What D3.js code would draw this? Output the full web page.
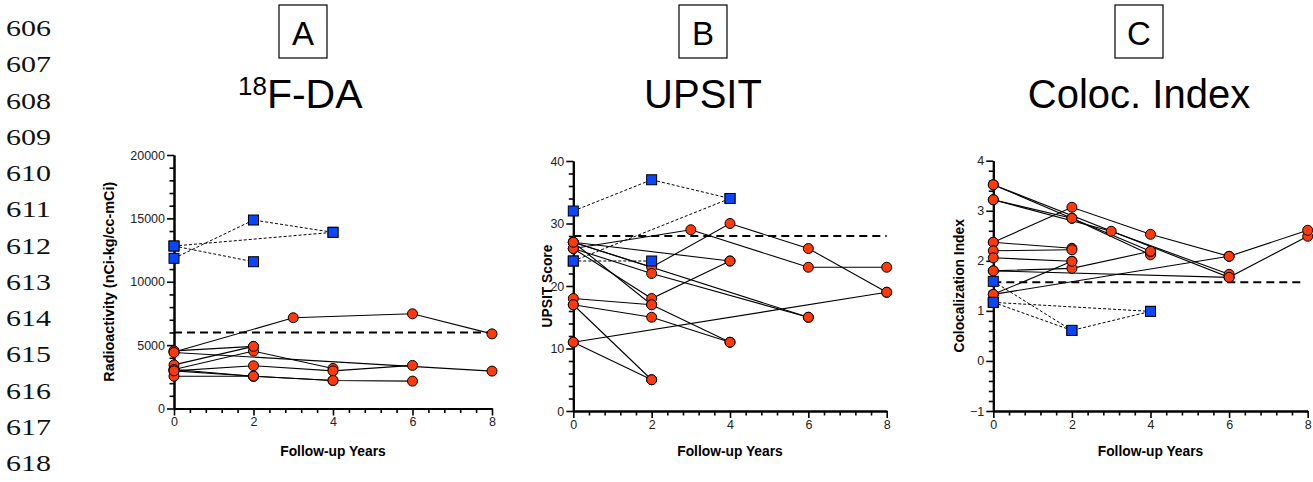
<!DOCTYPE html>
<html>
<head>
<meta charset="utf-8">
<script src="https://cdn.jsdelivr.net/npm/d3@7"></script>
<style>
  html, body { margin: 0; padding: 0; background: #fff; }
  svg { display: block; }
</style>
</head>
<body>
<script>
// ---------------- DATA ----------------
const lineNumbers = ["606","607","608","609","610","611","612","613","614","615","616","617","618"];
const panelLetters = ["A", "B", "C"];
const xTickLabels = [0, 2, 4, 6, 8];
const xLabel = "Follow-up Years";

// Panel A: 18F-DA radioactivity, each subject = list of [year, value]
const daRed = [
  [[0,4450],[3,7160],[6,7470],[8,5890]],
  [[0,4550],[2,4900]],
  [[0,3080],[2,4530],[4,3160]],
  [[0,4420],[8,2950]],
  [[0,2970],[2,3370],[4,2970],[6,3400]],
  [[0,3440],[2,4900]],
  [[0,2550],[2,2550],[4,2210]],
  [[0,3080],[2,2550],[4,2210],[6,2160]],
  [[0,2970],[2,2550]]
];
const daBlue = [
  [[0,12820],[2,11580]],
  [[0,12820],[4,13900]],
  [[0,11850],[2,14870],[4,13900]]
];
const daCutoff = 6000;
const daYTicks = [0, 5000, 10000, 15000, 20000];

// Panel B: UPSIT score
const upsitRed = [
  [[0,26],[3,29],[6,23],[8,23]],
  [[0,27],[2,23],[4,30],[6,26],[8,19]],
  [[0,27],[4,24]],
  [[0,26],[2,22],[6,15]],
  [[0,27],[6,15]],
  [[0,26],[2,18],[4,24]],
  [[0,27],[2,17],[4,11]],
  [[0,18],[2,17]],
  [[0,17],[2,15],[4,11]],
  [[0,17],[2,5]],
  [[0,11],[2,5]],
  [[0,11],[8,19]]
];
const upsitBlue = [
  [[0,32],[2,37],[4,34]],
  [[0,24],[4,34]],
  [[0,24],[2,24]]
];
const upsitCutoff = 28;
const upsitYTicks = [0, 10, 20, 30, 40];

// Panel C: colocalization index
const colocRed = [
  [[0,3.52],[2,2.85],[4,2.12]],
  [[0,3.52],[6,1.67],[8,2.49]],
  [[0,3.22],[3,2.59],[6,1.73]],
  [[0,3.22],[2,2.85],[4,2.19]],
  [[0,2.37],[2,3.07],[4,2.53],[6,2.09],[8,2.61]],
  [[0,2.37],[2,2.25]],
  [[0,2.20],[2,2.22]],
  [[0,2.06],[2,1.99]],
  [[0,1.80],[2,1.85],[4,2.19]],
  [[0,1.80],[6,1.67]],
  [[0,1.33],[2,1.99]],
  [[0,1.33],[6,2.09]]
];
const colocBlue = [
  [[0,1.59],[2,0.61]],
  [[0,1.17],[4,0.99]],
  [[0,1.17],[2,0.61],[4,0.99]]
];
const colocCutoff = 1.57;
const colocYTicks = [-1, 0, 1, 2, 3, 4];

// ---------------- DRAWING ----------------
const W = 1313, H = 482;
const RED = "#ff3a0a", BLUE = "#0a46ff";
const SANS = "'Liberation Sans', Arial, Helvetica, sans-serif";
const SERIF = "'Liberation Serif', 'Times New Roman', Times, serif";
const svg = d3.select("body").append("svg").attr("width", W).attr("height", H)
  .style("font-family", SANS);

// line numbers
svg.append("g").selectAll("text").data(lineNumbers).join("text")
  .attr("x", 6).attr("y", (d, i) => 36 + i * 36.25)
  .style("font-family", SERIF)
  .style("font-size", "24px")
  .attr("textLength", 45).attr("lengthAdjust", "spacingAndGlyphs")
  .attr("fill", "#111")
  .text(d => d);

function panel(cfg) {
  const g = svg.append("g");
  const x = d3.scaleLinear().domain([0, 8]).range([cfg.x0, cfg.x1]);
  const y = d3.scaleLinear().domain(cfg.yDomain).range([cfg.yb, cfg.yt]);

  // title box + letter
  g.append("rect").attr("x", cfg.boxCx - 24).attr("y", 5).attr("width", 48).attr("height", 53)
    .attr("fill", "none").attr("stroke", "#000").attr("stroke-width", 1.2);
  g.append("text").attr("x", cfg.boxCx).attr("y", 44.5).attr("text-anchor", "middle")
    .style("font-size", "33px").text(cfg.letter);
  cfg.title(g);

  // axes
  const xMinor = d3.range(0, 8.0001, 0.4).filter(v => Math.abs(v / 2 - Math.round(v / 2)) > 0.01);
  const yMinor = d3.range(cfg.yDomain[0], cfg.yDomain[1] + 1e-6, cfg.minorStep)
    .filter(v => Math.abs(v / cfg.majorStep - Math.round(v / cfg.majorStep)) > 0.01);

  const xAxisG = g.append("g").attr("transform", `translate(0,${cfg.yb})`);
  xAxisG.append("g").call(d3.axisBottom(x).tickValues(xMinor).tickSize(4.5).tickSizeOuter(0).tickFormat(""));
  xAxisG.append("g").call(d3.axisBottom(x).tickValues(xTickLabels).tickSize(7).tickSizeOuter(0).tickPadding(2).tickFormat(d3.format("d")));
  const yAxisG = g.append("g").attr("transform", `translate(${cfg.x0},0)`);
  yAxisG.append("g").call(d3.axisLeft(y).tickValues(yMinor).tickSize(4.5).tickSizeOuter(0).tickFormat(""));
  yAxisG.append("g").call(d3.axisLeft(y).tickValues(cfg.yTicks).tickSize(7).tickSizeOuter(0).tickPadding(2).tickFormat(d3.format("d")));
  g.selectAll(".domain").attr("stroke-width", 2).attr("stroke", "#000");
  g.selectAll(".tick line").attr("stroke-width", 1.6).attr("stroke", "#000");
  g.selectAll(".tick text").style("font-size", "12.5px").attr("fill", "#222")
    .style("font-family", SANS);

  // axis labels
  g.append("text").attr("x", (cfg.x0 + cfg.x1) / 2).attr("y", 456)
    .attr("text-anchor", "middle").style("font-weight", "bold").style("font-size", "13.8px").text(xLabel);
  g.append("text").attr("transform", `translate(${cfg.yLabelX},${(cfg.yb + cfg.yt) / 2}) rotate(-90)`)
    .attr("text-anchor", "middle").style("font-weight", "bold").style("font-size", cfg.yLabelSize + "px").text(cfg.yLabel);

  // cutoff dashed line
  g.append("line").attr("x1", x(0)).attr("x2", x(cfg.cutoffEnd)).attr("y1", y(cfg.cutoff)).attr("y2", y(cfg.cutoff))
    .attr("stroke", "#000").attr("stroke-width", 2).attr("stroke-dasharray", "8,5");

  const line = d3.line().x(d => x(d[0])).y(d => y(d[1]));
  g.append("g").selectAll("path").data(cfg.blue).join("path")
    .attr("d", line).attr("fill", "none").attr("stroke", "#000").attr("stroke-width", 1)
    .attr("stroke-dasharray", "3,2");
  g.append("g").selectAll("path").data(cfg.red).join("path")
    .attr("d", line).attr("fill", "none").attr("stroke", "#000").attr("stroke-width", 1.1);

  // markers
  g.append("g").selectAll("circle").data(cfg.red.flat()).join("circle")
    .attr("cx", d => x(d[0])).attr("cy", d => y(d[1])).attr("r", 5)
    .attr("fill", RED).attr("stroke", "#000").attr("stroke-width", 1);
  g.append("g").selectAll("rect").data(cfg.blue.flat()).join("rect")
    .attr("x", d => x(d[0]) - 5).attr("y", d => y(d[1]) - 5).attr("width", 10).attr("height", 10)
    .attr("fill", BLUE).attr("stroke", "#000").attr("stroke-width", 1);
}

panel({
  letter: panelLetters[0], boxCx: 303,
  title: g => {
    const t = g.append("text").attr("x", 238).attr("y", 108);
    t.append("tspan").style("font-size", "26px").attr("dy", -13).text("18");
    t.append("tspan").style("font-size", "41px").attr("dy", 13).text("F-DA");
  },
  x0: 174, x1: 492, yb: 408.5, yt: 155,
  yDomain: [0, 20000], yTicks: daYTicks, majorStep: 5000, minorStep: 1000,
  yLabel: "Radioactivity (nCi-kg/cc-mCi)", yLabelX: 113.5, yLabelSize: 14.4,
  cutoff: daCutoff, cutoffEnd: 8, red: daRed, blue: daBlue
});

panel({
  letter: panelLetters[1], boxCx: 703,
  title: g => g.append("text").attr("x", 703).attr("y", 108).attr("text-anchor", "middle")
    .style("font-size", "40px").text("UPSIT"),
  x0: 573.3, x1: 886.7, yb: 411, yt: 161,
  yDomain: [0, 40], yTicks: upsitYTicks, majorStep: 10, minorStep: 2,
  yLabel: "UPSIT Score", yLabelX: 552, yLabelSize: 13.8,
  cutoff: upsitCutoff, cutoffEnd: 8, red: upsitRed, blue: upsitBlue
});

panel({
  letter: panelLetters[2], boxCx: 1139,
  title: g => g.append("text").attr("x", 1139).attr("y", 108).attr("text-anchor", "middle")
    .style("font-size", "40px").text("Coloc. Index"),
  x0: 993.3, x1: 1307.7, yb: 411, yt: 160.7,
  yDomain: [-1, 4], yTicks: colocYTicks, majorStep: 1, minorStep: 0.2,
  yLabel: "Colocalization Index", yLabelX: 964, yLabelSize: 13.8,
  cutoff: colocCutoff, cutoffEnd: 7.85, red: colocRed, blue: colocBlue
});
</script>
</body>
</html>
